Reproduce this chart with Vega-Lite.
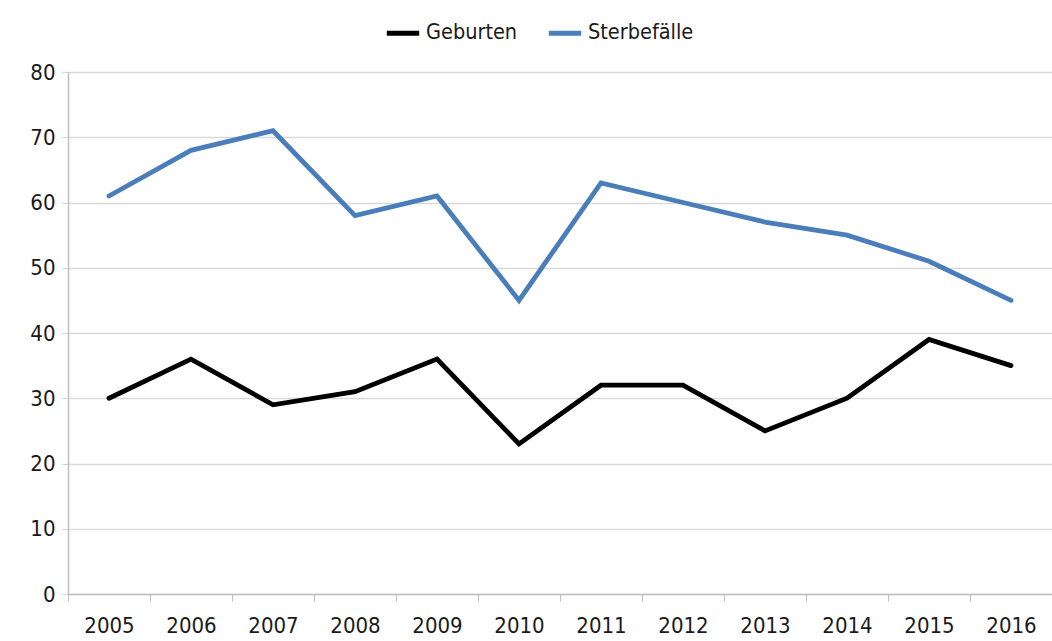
{
  "$schema": "https://vega.github.io/schema/vega-lite/v6.json",
  "width": 984,
  "height": 522,
  "autosize": {"type": "none"},
  "padding": {"left": 68, "top": 72, "right": 0, "bottom": 47},
  "background": "white",
  "config": {
    "view": {"stroke": null},
    "font": "DejaVu Sans Condensed, Liberation Sans, sans-serif",
    "axis": {"labelFont": "DejaVu Sans Condensed, Liberation Sans, sans-serif", "labelColor": "#1a1a1a"}
  },
  "data": {
    "values": [
      {"Jahr": "2005", "Reihe": "Geburten", "Wert": 30},
      {"Jahr": "2006", "Reihe": "Geburten", "Wert": 36},
      {"Jahr": "2007", "Reihe": "Geburten", "Wert": 29},
      {"Jahr": "2008", "Reihe": "Geburten", "Wert": 31},
      {"Jahr": "2009", "Reihe": "Geburten", "Wert": 36},
      {"Jahr": "2010", "Reihe": "Geburten", "Wert": 23},
      {"Jahr": "2011", "Reihe": "Geburten", "Wert": 32},
      {"Jahr": "2012", "Reihe": "Geburten", "Wert": 32},
      {"Jahr": "2013", "Reihe": "Geburten", "Wert": 25},
      {"Jahr": "2014", "Reihe": "Geburten", "Wert": 30},
      {"Jahr": "2015", "Reihe": "Geburten", "Wert": 39},
      {"Jahr": "2016", "Reihe": "Geburten", "Wert": 35},
      {"Jahr": "2005", "Reihe": "Sterbefälle", "Wert": 61},
      {"Jahr": "2006", "Reihe": "Sterbefälle", "Wert": 68},
      {"Jahr": "2007", "Reihe": "Sterbefälle", "Wert": 71},
      {"Jahr": "2008", "Reihe": "Sterbefälle", "Wert": 58},
      {"Jahr": "2009", "Reihe": "Sterbefälle", "Wert": 61},
      {"Jahr": "2010", "Reihe": "Sterbefälle", "Wert": 45},
      {"Jahr": "2011", "Reihe": "Sterbefälle", "Wert": 63},
      {"Jahr": "2012", "Reihe": "Sterbefälle", "Wert": 60},
      {"Jahr": "2013", "Reihe": "Sterbefälle", "Wert": 57},
      {"Jahr": "2014", "Reihe": "Sterbefälle", "Wert": 55},
      {"Jahr": "2015", "Reihe": "Sterbefälle", "Wert": 51},
      {"Jahr": "2016", "Reihe": "Sterbefälle", "Wert": 45}
    ]
  },
  "mark": {"type": "line", "strokeWidth": 4.8, "strokeCap": "round", "strokeJoin": "miter"},
  "encoding": {
    "x": {
      "field": "Jahr",
      "type": "ordinal",
      "scale": {"type": "band", "paddingInner": 0, "paddingOuter": 0},
      "axis": {
        "title": null,
        "labelAngle": 0,
        "labelFontSize": 22,
        "labelPadding": 14,
        "tickBand": "extent",
        "tickSize": 7,
        "tickColor": "#bfbfbf",
        "domainColor": "#bfbfbf",
        "domainWidth": 1.5,
        "grid": false
      }
    },
    "y": {
      "field": "Wert",
      "type": "quantitative",
      "scale": {"domain": [0, 80], "nice": false},
      "axis": {
        "title": null,
        "values": [0, 10, 20, 30, 40, 50, 60, 70, 80],
        "labelFontSize": 22,
        "labelPadding": 7,
        "tickSize": 6,
        "tickColor": "#d0d0d0",
        "domainColor": "#bfbfbf",
        "domainWidth": 1.5,
        "gridColor": "#d9d9d9",
        "gridWidth": 1.5
      }
    },
    "color": {
      "field": "Reihe",
      "type": "nominal",
      "scale": {"domain": ["Geburten", "Sterbefälle"], "range": ["#000000", "#4a7ebb"]},
      "legend": {
        "title": null,
        "orient": "none",
        "direction": "horizontal",
        "legendX": 316,
        "legendY": -58,
        "symbolType": "stroke",
        "symbolSize": 1050,
        "symbolStrokeWidth": 5,
        "labelFontSize": 21.5,
        "labelFont": "DejaVu Sans Condensed, Liberation Sans, sans-serif",
        "labelColor": "#1a1a1a",
        "columnPadding": 20,
        "labelOffset": 4
      }
    }
  }
}
